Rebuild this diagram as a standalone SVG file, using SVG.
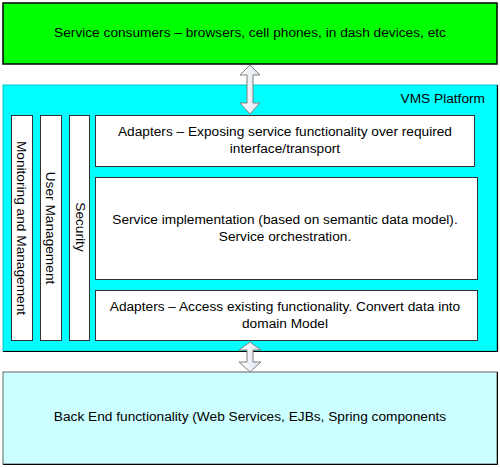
<svg xmlns="http://www.w3.org/2000/svg" width="500" height="467" viewBox="0 0 500 467">
<defs>
<style>
text{font-family:"Liberation Sans",Arial,sans-serif;font-size:13.7px;fill:#000}
.c{text-anchor:middle}
.box{fill:#fff;stroke:#333;stroke-width:1}
.arrow{fill:url(#ag);stroke:#7f7f7f;stroke-width:1}
</style>
<linearGradient id="ag" x1="0" y1="0" x2="1" y2="0">
<stop offset="0" stop-color="#ffffff"/>
<stop offset="1" stop-color="#dde3ef"/>
</linearGradient>
</defs>
<rect width="500" height="467" fill="#fff"/>
<g id="consumers">
<rect x="3" y="3" width="494" height="61" fill="#00ff00" stroke="#000" stroke-width="1.5"/>
<text class="c" x="250" y="37">Service consumers – browsers, cell phones, in dash devices, etc</text>
</g>
<g id="platform">
<rect x="3" y="85" width="494" height="266" fill="#00ffff" stroke="#00c8c8" stroke-width="1"/>
<path d="M497.5 85 V351.5 H3" fill="none" stroke="#000" stroke-width="1.2"/>
<text x="485" y="103" text-anchor="end">VMS Platform</text>
</g>
<g id="monitoring">
<rect class="box" x="11.5" y="115.5" width="21" height="225"/>
<text class="c" transform="translate(17,228) rotate(90)">Monitoring and Management</text>
</g>
<g id="usermgmt">
<rect class="box" x="40.5" y="115.5" width="21" height="225"/>
<text class="c" transform="translate(46,228) rotate(90)">User Management</text>
</g>
<g id="security">
<rect class="box" x="69.5" y="115.5" width="20" height="225"/>
<text class="c" transform="translate(76,227) rotate(90)">Security</text>
</g>
<g id="adapters-top">
<rect class="box" x="95.5" y="115.5" width="379" height="51"/>
<text class="c" x="285" y="136">Adapters – Exposing service functionality over required</text>
<text class="c" x="285" y="153">interface/transport</text>
</g>
<g id="service-impl">
<rect class="box" x="95.5" y="177.5" width="382" height="102"/>
<text class="c" x="285" y="224">Service implementation (based on semantic data model).</text>
<text class="c" x="285" y="241">Service orchestration.</text>
</g>
<g id="adapters-bottom">
<rect class="box" x="95.5" y="290.5" width="382" height="50"/>
<text class="c" x="285" y="311">Adapters – Access existing functionality. Convert data into</text>
<text class="c" x="285" y="328">domain Model</text>
</g>
<g id="backend">
<rect x="3" y="372" width="494" height="92" fill="#ccffff" stroke="#666" stroke-width="1"/>
<path d="M3 464.5 H497.5 V372" fill="none" stroke="#000" stroke-width="1"/>
<text class="c" x="250" y="421">Back End functionality (Web Services, EJBs, Spring components</text>
</g>
<g id="connectors">
<path class="arrow" d="M250 65 L260 75 L253 75 L253 103 L260 103 L250 114 L240 103 L247 103 L247 75 L240 75 Z"/>
<path class="arrow" d="M250 342 L261 350 L253 350 L253 362 L261 362 L250 372 L239 362 L247 362 L247 350 L239 350 Z"/>
</g>
</svg>
